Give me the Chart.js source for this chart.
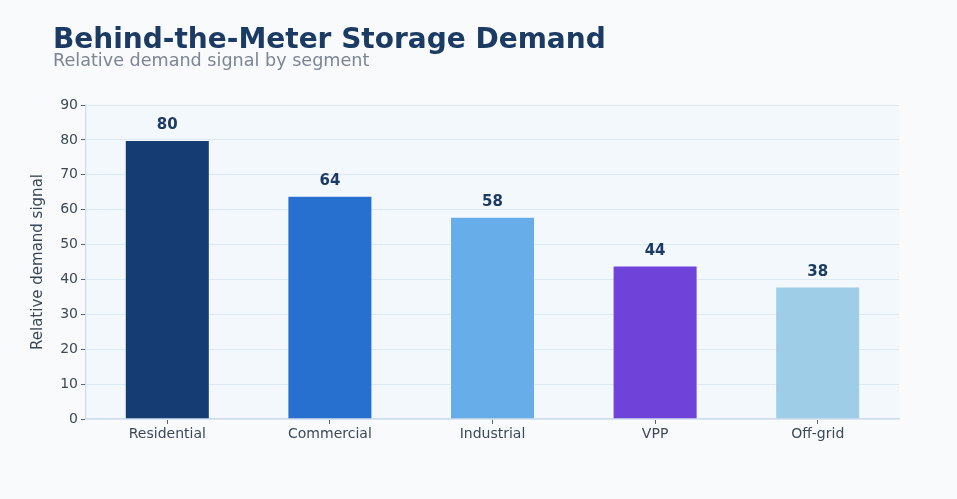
<!DOCTYPE html>
<html>
<head>
<meta charset="utf-8">
<script src="https://cdn.jsdelivr.net/npm/chart.js@4.4.1/dist/chart.umd.min.js"></script>
<style>
  html, body { margin: 0; padding: 0; background: #f8fafc; }
  body { width: 957px; height: 499px; position: relative; overflow: hidden; font-family: "DejaVu Sans", sans-serif; }
  #title { position: absolute; left: 53px; top: 22px; font-size: 28px; line-height: 34px; font-weight: bold; color: #1b3a64; white-space: nowrap; }
  #subtitle { position: absolute; left: 53px; top: 50px; font-size: 17.6px; line-height: 20px; color: #7b8593; white-space: nowrap; }
  #wrap { position: absolute; left: 0; top: 0; width: 957px; height: 499px; }
</style>
</head>
<body>
<div id="wrap"><canvas id="chart" width="957" height="499"></canvas></div>
<div id="title">Behind-the-Meter Storage Demand</div>
<div id="subtitle">Relative demand signal by segment</div>
<script>
const segments = ['Residential', 'Commercial', 'Industrial', 'VPP', 'Off-grid'];
const demand = [80, 64, 58, 44, 38];
const barColors = ['#163d73', '#2770d0', '#66adea', '#6f42d9', '#9ecde8'];
const yTicks = [0, 10, 20, 30, 40, 50, 60, 70, 80, 90];

// light panel behind the plot
const plotBackground = {
  id: 'plotBackground',
  beforeDraw(chart) {
    const { ctx, chartArea } = chart;
    ctx.save();
    ctx.fillStyle = '#f3f8fd';
    ctx.fillRect(chartArea.left, chartArea.top, chartArea.right - chartArea.left, chartArea.bottom - chartArea.top);
    ctx.restore();
  }
};

// value above each bar
const valueLabels = {
  id: 'valueLabels',
  afterDatasetsDraw(chart) {
    const { ctx } = chart;
    const meta = chart.getDatasetMeta(0);
    ctx.save();
    ctx.font = 'bold 15px "DejaVu Sans"';
    ctx.fillStyle = '#1b3a64';
    ctx.textAlign = 'center';
    ctx.textBaseline = 'bottom';
    meta.data.forEach((bar, i) => {
      ctx.fillText(String(demand[i]), bar.x, bar.y - 7);
    });
    ctx.restore();
  }
};

new Chart(document.getElementById('chart'), {
  type: 'bar',
  data: {
    labels: segments,
    datasets: [{
      data: demand,
      backgroundColor: barColors,
      borderColor: 'rgba(255,255,255,0.45)',
      borderWidth: 1,
      barPercentage: 0.523,
      categoryPercentage: 1.0
    }]
  },
  options: {
    responsive: false,
    animation: false,
    layout: { padding: { top: 105, right: 58, left: 0, bottom: 0 } },
    plugins: {
      legend: { display: false },
      tooltip: { enabled: false }
    },
    scales: {
      x: {
        offset: true,
        afterFit: (scale) => { scale.height = 80; },
        grid: { offset: false, drawOnChartArea: false, drawTicks: true, tickLength: 5, tickColor: '#5a6575' },
        border: { color: '#cfdcea', width: 1.2 },
        ticks: { color: '#3c4858', font: { family: 'DejaVu Sans', size: 14 }, padding: 2 }
      },
      y: {
        min: 0,
        max: 90,
        afterFit: (scale) => { scale.width = 86; },
        afterBuildTicks: (scale) => { scale.ticks = yTicks.map(v => ({ value: v })); },
        grid: { color: '#dce8f4', lineWidth: 1, tickLength: 5, tickColor: '#5a6575' },
        border: { color: '#cfdcea', width: 1.2 },
        ticks: { color: '#3c4858', font: { family: 'DejaVu Sans', size: 14 }, padding: 3 },
        title: {
          display: true,
          text: 'Relative demand signal',
          color: '#3a4656',
          font: { family: 'DejaVu Sans', size: 15 },
          padding: { top: 29, bottom: 0 }
        }
      }
    }
  },
  plugins: [plotBackground, valueLabels]
});
</script>
</body>
</html>
